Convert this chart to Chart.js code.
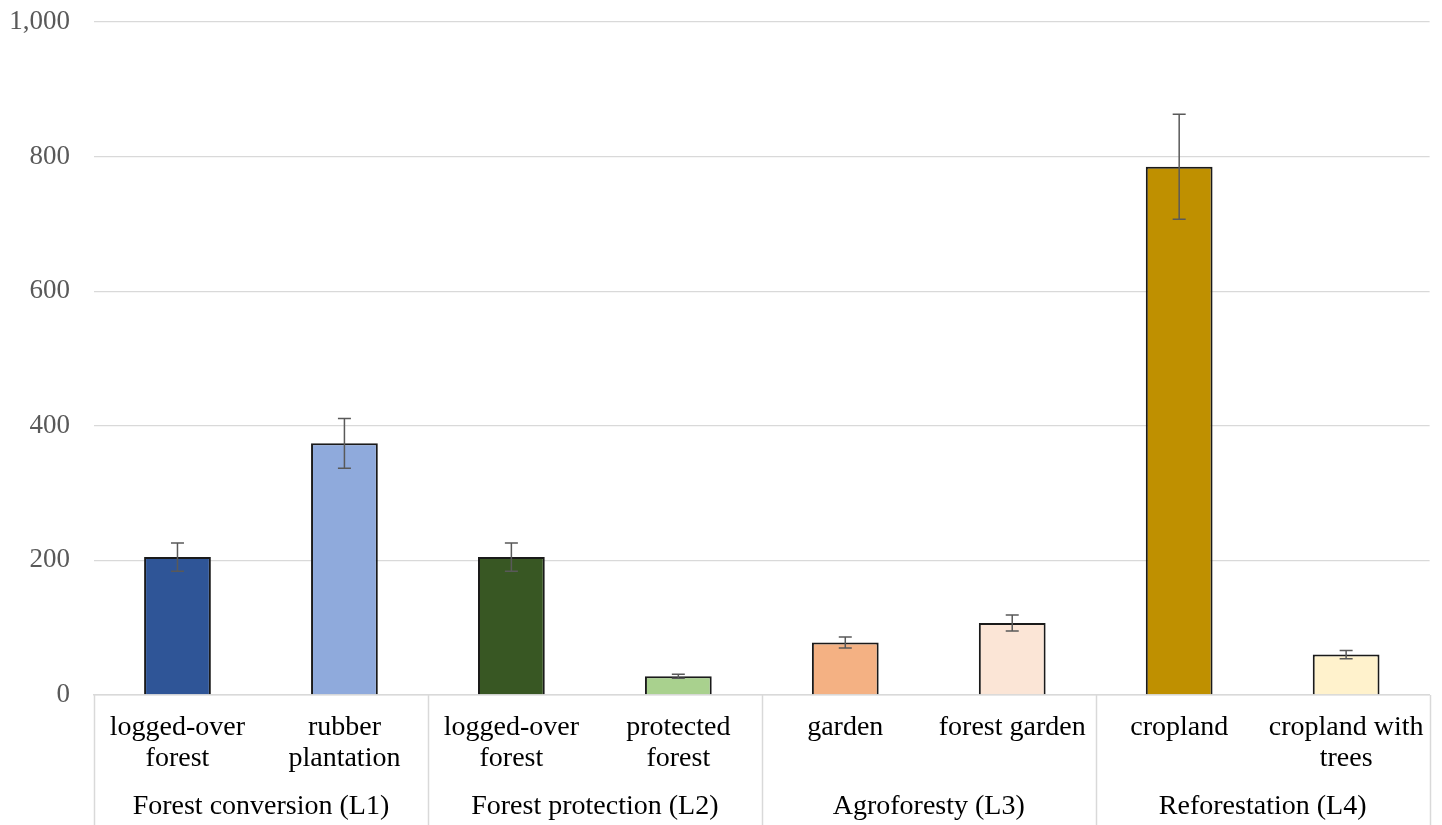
<!DOCTYPE html>
<html>
<head>
<meta charset="utf-8">
<script src="https://cdn.jsdelivr.net/npm/chart.js@4/dist/chart.umd.min.js"></script>
<style>
html,body{margin:0;padding:0;background:#fff;}
#wrap{width:1442px;height:825px;}
</style>
</head>
<body>
<div id="wrap"><canvas id="c" width="1442" height="825"></canvas></div>
<script>
const categories = [
  ['logged-over', 'forest'],
  ['rubber', 'plantation'],
  ['logged-over', 'forest'],
  ['protected', 'forest'],
  'garden',
  'forest garden',
  'cropland',
  ['cropland with', 'trees']
];
const groups = ['Forest conversion (L1)', 'Forest protection (L2)', 'Agroforesty (L3)', 'Reforestation (L4)'];
const groupSizes = [2, 2, 2, 2];
const values = [205, 374, 205, 28, 78, 107, 785, 60];
const errors = [21, 37, 21, 3, 8, 12, 78, 6];
const barColors = ['#2F5597', '#8FAADC', '#385723', '#A9D18E', '#F4B183', '#FBE5D6', '#BF9000', '#FFF2CC'];
const yTicks = [0, 200, 400, 600, 800, 1000];

const FONT = "'Liberation Serif', 'Times New Roman', serif";
const GRID = '#d9d9d9';

const errorBarPlugin = {
  id: 'errorBars',
  afterDatasetsDraw(chart) {
    const ctx = chart.ctx;
    const meta = chart.getDatasetMeta(0);
    const y = chart.scales.y;
    ctx.save();
    ctx.strokeStyle = '#595959';
    ctx.lineWidth = 1.5;
    meta.data.forEach((bar, i) => {
      const v = values[i], e = errors[i];
      const yTop = y.getPixelForValue(v + e);
      const yBot = y.getPixelForValue(v - e);
      const x = bar.x;
      const cap = 6.5;
      ctx.beginPath();
      ctx.moveTo(x, yTop); ctx.lineTo(x, yBot);
      ctx.moveTo(x - cap, yTop); ctx.lineTo(x + cap, yTop);
      ctx.moveTo(x - cap, yBot); ctx.lineTo(x + cap, yBot);
      ctx.stroke();
    });
    ctx.restore();
  }
};

const groupPlugin = {
  id: 'groupAxis',
  afterDraw(chart) {
    const ctx = chart.ctx;
    const x = chart.scales.x;
    const area = chart.chartArea;
    const bottom = chart.height;
    const step = x.getPixelForValue(1) - x.getPixelForValue(0);
    ctx.save();
    ctx.strokeStyle = GRID;
    ctx.lineWidth = 1.5;
    let idx = 0;
    const bounds = [area.left];
    groups.forEach((g, gi) => {
      const first = idx, last = idx + groupSizes[gi] - 1;
      const right = x.getPixelForValue(last) + step / 2;
      bounds.push(gi === groups.length - 1 ? area.right : right);
      const cx = (x.getPixelForValue(first) + x.getPixelForValue(last)) / 2;
      ctx.fillStyle = '#000';
      ctx.font = '28px ' + FONT;
      ctx.textAlign = 'center';
      ctx.textBaseline = 'middle';
      ctx.fillText(g, cx, 807);
      idx += groupSizes[gi];
    });
    bounds.forEach(bx => {
      ctx.beginPath();
      ctx.moveTo(Math.round(bx) + 0.5, area.bottom);
      ctx.lineTo(Math.round(bx) + 0.5, bottom);
      ctx.stroke();
    });
    ctx.restore();
  }
};

new Chart(document.getElementById('c'), {
  type: 'bar',
  data: {
    labels: categories,
    datasets: [{
      data: values,
      backgroundColor: barColors,
      borderColor: '#1a1a1a',
      borderWidth: 2,
      barPercentage: 0.4,
      categoryPercentage: 1.0
    }]
  },
  options: {
    responsive: false,
    devicePixelRatio: 1,
    animation: false,
    layout: { padding: { top: 22, right: 8, left: 0, bottom: 0 } },
    plugins: { legend: { display: false }, tooltip: { enabled: false } },
    scales: {
      x: {
        grid: { display: false, drawTicks: false },
        border: { display: true, color: GRID, width: 1.5 },
        ticks: {
          color: '#000',
          font: { family: FONT, size: 28, lineHeight: 1.08 },
          padding: 18,
          maxRotation: 0,
          autoSkip: false
        },
        afterFit(scale) { scale.height = 130; }
      },
      y: {
        min: 0,
        max: 1000,
        afterBuildTicks(scale) { scale.ticks = yTicks.map(v => ({ value: v })); },
        grid: { color: GRID, lineWidth: 1.3, drawTicks: false },
        border: { display: false },
        ticks: {
          color: '#595959',
          font: { family: FONT, size: 27 },
          padding: 24,
          callback: v => v.toLocaleString('en-US')
        },
        afterFit(scale) { scale.width = 94; scale.paddingTop = 0; scale.paddingBottom = 0; }
      }
    }
  },
  plugins: [errorBarPlugin, groupPlugin]
});
</script>
</body>
</html>
